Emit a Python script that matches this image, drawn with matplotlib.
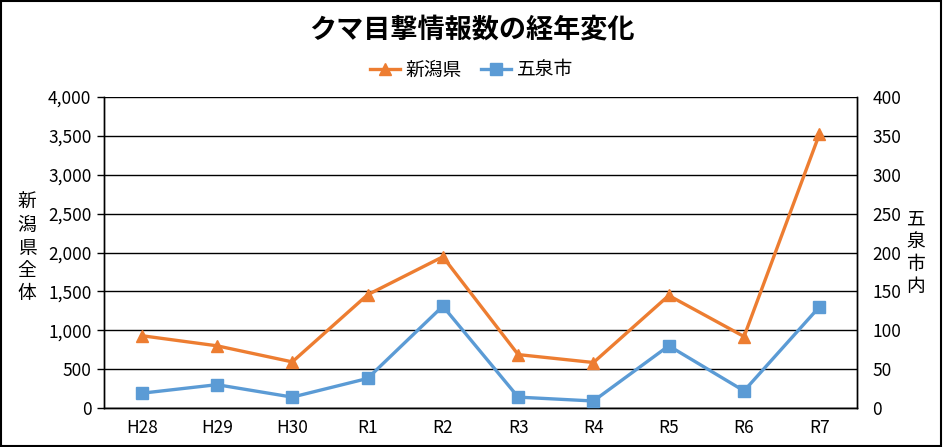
import matplotlib
matplotlib.use("Agg")
import matplotlib.pyplot as plt
from matplotlib.patches import Rectangle

plt.rcParams['font.family'] = ['Noto Sans CJK JP', 'DejaVu Sans']

categories = ["H28", "H29", "H30", "R1", "R2", "R3", "R4", "R5", "R6", "R7"]
niigata = [930, 800, 593, 1456, 1945, 687, 585, 1447, 919, 3520]
gosen = [19, 30, 14, 38, 131, 14, 9, 80, 22, 130]
left_ticks = [0, 500, 1000, 1500, 2000, 2500, 3000, 3500, 4000]
right_ticks = [0, 50, 100, 150, 200, 250, 300, 350, 400]

orange = "#ED7D31"
blue = "#5B9BD5"

fig = plt.figure(figsize=(9.43, 4.47), dpi=100)
ax = fig.add_axes([104/943, 1-408/447, (857-104)/943, (408-97)/447])
ax2 = ax.twinx()

x = list(range(len(categories)))
l1, = ax.plot(x, niigata, color=orange, lw=2.4, marker="^", ms=9, label="新潟県", zorder=3)
l2, = ax2.plot(x, gosen, color=blue, lw=2.4, marker="s", ms=8, label="五泉市", zorder=3)

ax.set_xlim(-0.5, len(categories)-0.5)
ax.set_ylim(0, 4000)
ax2.set_ylim(0, 400)
ax.set_yticks(left_ticks)
ax.set_yticklabels([f"{v:,}" for v in left_ticks], fontsize=12.5)
ax2.set_yticks(right_ticks)
ax2.set_yticklabels([str(v) for v in right_ticks], fontsize=12.5)
ax.set_xticks(x)
ax.set_xticklabels(categories, fontsize=12.5)
ax.tick_params(axis="x", length=0, pad=8)
ax.tick_params(axis="y", length=5, width=1, color="black", pad=4)
ax2.tick_params(axis="y", length=0, pad=11)
ax.yaxis.grid(True, color="black", lw=1)
ax.set_axisbelow(True)
for a in (ax, ax2):
    a.spines["top"].set_visible(False)
    for s in ("left", "right", "bottom"):
        a.spines[s].set_color("black")
        a.spines[s].set_linewidth(1)

fig.text(27/943, 1-248/447, "新\n潟\n県\n全\n体", ha="center", va="center",
         fontsize=13.5, linespacing=1.1)
fig.text(916/943, 1-253/447, "五\n泉\n市\n内", ha="center", va="center",
         fontsize=13.5, linespacing=1.1)

fig.text(0.5, 1-30/447, "クマ目撃情報数の経年変化", ha="center", va="center",
         fontsize=19.5, fontweight="bold")

fig.legend(handles=[l1, l2], loc="center", bbox_to_anchor=(0.5, 1-70/447),
           ncol=2, frameon=False, fontsize=13.5, handlelength=1.6,
           columnspacing=1.0, handletextpad=0.3)

fig.add_artist(Rectangle((0.001, 0.002), 0.997, 0.996, transform=fig.transFigure,
                         fill=False, edgecolor="black", lw=1.5))

fig.savefig("out.png", dpi=100)
